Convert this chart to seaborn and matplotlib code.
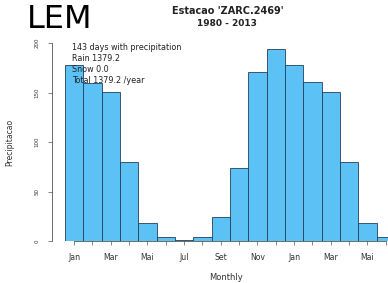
#!/usr/bin/env python3
"""
Monthly precipitation climatology for station ZARC.2469 (1980 - 2013)
"""

import matplotlib
matplotlib.use('Agg')
import matplotlib.pyplot as plt
import pandas as pd
import seaborn as sns

# Month labels (Jan .. Jun of the following year, 18 bars)
months = ['Jan', 'Fev', 'Mar', 'Abr', 'Mai', 'Jun', 'Jul', 'Ago', 'Set',
          'Out', 'Nov', 'Dez', 'Jan', 'Fev', 'Mar', 'Abr', 'Mai', 'Jun']
# Monthly precipitation
precip = [178, 160, 151, 80, 18, 4, 1, 4, 24, 74, 171, 194,
          178, 161, 151, 80, 18, 4]
y_ticks = [0, 50, 100, 150, 200]
info_lines = ['143 days with precipitation', 'Rain 1379.2',
              'Snow 0.0', 'Total 1379.2 /year']

df = pd.DataFrame({'pos': range(len(months)), 'precip': precip})

W, H = 388, 283
fig = plt.figure(figsize=(W / 100, H / 100), dpi=100)
# plot region runs past the right edge, as in the original
left, right, top, bottom = 52, 404, 43, 241
ax = fig.add_axes([left / W, 1 - bottom / H, (right - left) / W, (bottom - top) / H])

sns.barplot(data=df, x='pos', y='precip', width=1.0, color='#5cc2f6',
            saturation=1, edgecolor='#23405e', linewidth=0.6, ax=ax)

ax.set_xlim(-1.21, 18.0)
ax.set_ylim(0, 200)

ax.spines['top'].set_visible(False)
ax.spines['right'].set_visible(False)
ax.spines['left'].set_bounds(0, 200)
ax.spines['bottom'].set_bounds(0, 17)
for s in ('left', 'bottom'):
    ax.spines[s].set_linewidth(0.6)
    ax.spines[s].set_color('#555555')

ax.set_xticks(range(len(months)))
ax.set_xticklabels([m if i % 2 == 0 else '' for i, m in enumerate(months)],
                   fontsize=5.6, color='#333333')
ax.set_yticks(y_ticks)
ax.set_yticklabels([str(v) for v in y_ticks], rotation=90, va='center',
                   fontsize=4, color='#333333')
ax.tick_params(axis='both', length=3, width=0.5, color='#555555', pad=6)
ax.set_xlabel('Monthly', fontsize=6, color='#333333')
# x label sits in the bottom margin; coords in axes fraction
ax.xaxis.set_label_coords(174 / (right - left), -32 / (bottom - top))
ax.set_ylabel('Precipitacao', fontsize=5.5, color='#333333')
ax.yaxis.set_label_coords(-38 / (right - left), 0.5)

# station info in the upper left
for i, line in enumerate(info_lines):
    ax.text(0.057, 1.0 - i * 0.056, line, transform=ax.transAxes,
            fontsize=5.8, color='#222222', va='top')

fig.text(228 / W, 1 - 11 / H, "Estacao 'ZARC.2469'", ha='center', va='center',
         fontsize=7, fontweight='bold', color='#222222')
fig.text(227 / W, 1 - 24 / H, '1980 - 2013', ha='center', va='center',
         fontsize=6.5, fontweight='bold', color='#222222')
fig.text(27 / W, 1 - 19 / H, 'LEM', ha='left', va='center',
         fontsize=23, color='black')

fig.savefig('out.png', dpi=100)
plt.close(fig)
